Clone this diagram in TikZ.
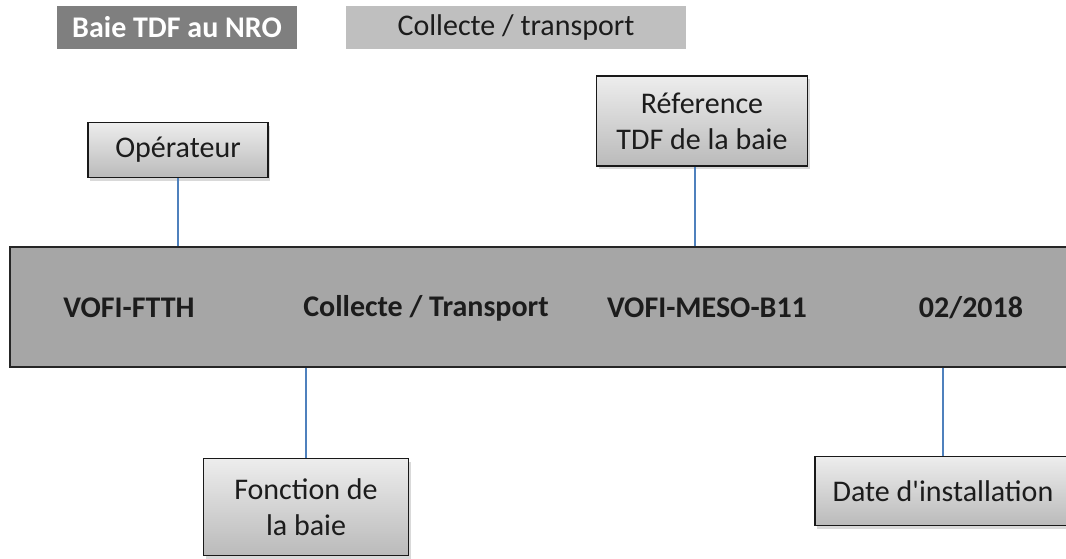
\documentclass[tikz,border=0pt]{standalone}
\usepackage{fontspec}
\setmainfont{Carlito}
\usetikzlibrary{positioning,shadows}
\definecolor{tdfdark}{RGB}{127,127,127}
\definecolor{tdflight}{RGB}{191,191,191}
\definecolor{tdfbar}{RGB}{166,166,166}
\definecolor{tdfline}{RGB}{79,129,189}
\definecolor{tdftext}{RGB}{28,28,28}
\newcommand{\tdfsize}{\fontsize{30}{36}\selectfont}

\begin{document}
\begin{tikzpicture}[
    x=1pt, y=-1pt,
    link/.style={line width=1.3pt, tdfline},
    tag/.style={draw=black!90, line width=1.5pt, top color=black!7, bottom color=black!27,
                drop shadow={shadow xshift=2pt, shadow yshift=-3pt, opacity=0.3},
                align=center, inner sep=0pt, text=tdftext, font=\tdfsize},
    legend/.style={minimum height=43pt, inner sep=0pt},
    field/.style={font=\tdfsize\bfseries, text=tdftext}
]
    \clip (0,0) rectangle (1066,558);
    \node[legend, fill=tdfdark, text=white, font=\tdfsize\bfseries, minimum width=240pt] (nro) at (177,27) {Baie TDF au NRO};
    \node[legend, fill=tdflight, text=tdftext, font=\tdfsize, minimum width=340pt] (collecte) at (516,27) {Collecte / transport};

    \node[draw=black!85, line width=1.6pt, fill=tdfbar, minimum width=1080pt, minimum height=120pt, inner sep=0pt] (bar) at (550,307) {};
    \node[field] (ftth) at (129,308) {VOFI-FTTH};
    \node[field] (transport) at (426,308) {Collecte / Transport};
    \node[field] (meso) at (707,308) {VOFI-MESO-B11};
    \node[field] (annee) at (971,308) {02/2018};

    \node[tag, minimum width=180pt, minimum height=55pt] (oper) at (178,150) {Opérateur};
    \node[tag, minimum width=211pt, minimum height=90pt] (ref) at (702,121) {Réference\\TDF de la baie};
    \node[tag, minimum width=205pt, minimum height=97pt] (fonc) at (306,507) {Fonction de\\la baie};
    \node[tag, minimum width=256pt, minimum height=69pt] (date) at (943,491) {Date d\textquotesingle installation};

    \draw[link] (oper.south) -- (oper.south |- bar.north);
    \draw[link] ([xshift=-7pt]ref.south) -- ([xshift=-7pt]ref.south |- bar.north);
    \draw[link] (fonc.north) -- (fonc.north |- bar.south);
    \draw[link] (date.north) -- (date.north |- bar.south);
\end{tikzpicture}
\end{document}
